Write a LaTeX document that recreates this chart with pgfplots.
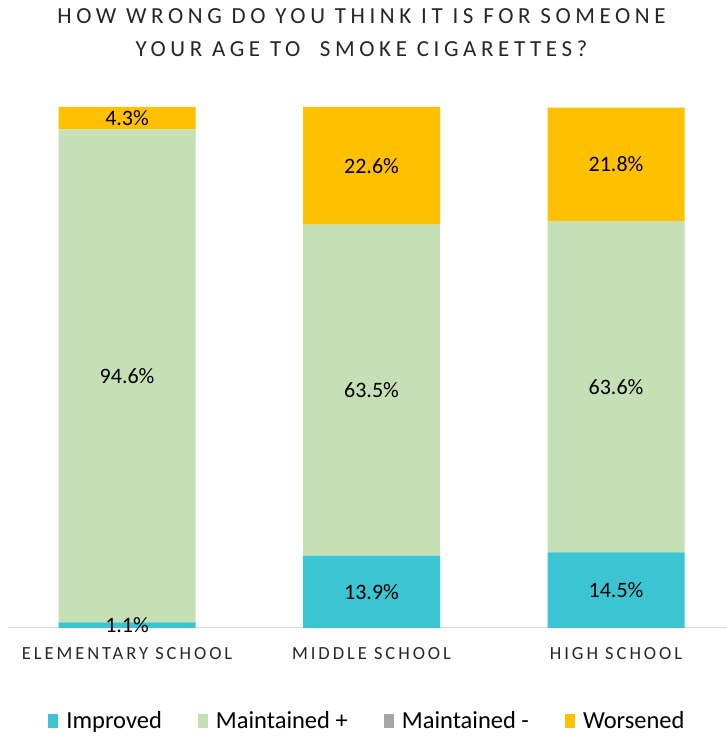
\documentclass[border=0pt]{standalone}
\usepackage{pgfplots}
\pgfplotsset{compat=1.18}
\usepackage{fontspec}
\setmainfont{Carlito}
\definecolor{cImp}{HTML}{3BC4D2}
\definecolor{cMp}{HTML}{C5E0B4}
\definecolor{cMm}{HTML}{A5A5A5}
\definecolor{cW}{HTML}{FFC000}
\begin{document}
\begin{tikzpicture}
\useasboundingbox (0pt,0pt) rectangle (727pt,738pt);
\begin{axis}[
  at={(8pt,110pt)}, anchor=south west,
  scale only axis, width=719pt, height=521pt,
  ybar stacked, bar width=137pt,
  xmin=-0.487, xmax=2.454, ymin=0, ymax=100,
  axis y line=none, axis x line*=bottom,
  x axis line style={draw=black!15, line width=1pt, -},
  xtick={0,1,2},
  xticklabels={ELEMENTARY SCHOOL, MIDDLE SCHOOL, HIGH SCHOOL},
  major tick length=0,
  xticklabel style={font=\fontsize{18.5}{20}\selectfont\addfontfeatures{LetterSpace=16}, text=black!85, inner sep=0pt, anchor=north, yshift=-19pt},
  title={HOW WRONG DO YOU THINK IT IS FOR SOMEONE\\YOUR AGE TO\ \ SMOKE CIGARETTES?},
  title style={at={(0.5,1)}, anchor=south, inner sep=0pt, yshift=44pt, xshift=-6pt, align=center,
    font=\fontsize{23}{33}\selectfont\addfontfeatures{LetterSpace=20}, text=black!85},
  legend style={at={(0.5,0)}, anchor=center, yshift=-93pt, draw=none, fill=none,
    legend columns=4, font=\fontsize{24.5}{27}\selectfont,
    /tikz/every even column/.append style={column sep=34pt},
    /tikz/every odd column/.append style={column sep=6pt},
    legend cell align=left},
  legend image code/.code={\fill[#1] (0pt,-7pt) rectangle (10pt,7pt);},
  nodes near coords={\pgfmathprintnumber[fixed,precision=1,fixed zerofill,assume math mode=true]{\pgfplotspointmeta}\%},
  point meta=explicit,
  every node near coord/.append style={anchor=center, font=\fontsize{22}{24}\selectfont, text=black},
]
\addplot[fill=cImp, draw=none] coordinates {(0,1.1) [1.1] (1,13.9) [13.9] (2,14.5) [14.5]};
\addlegendentry{Improved}
\addplot[fill=cMp, draw=none] coordinates {(0,94.6) [94.6] (1,63.5) [63.5] (2,63.6) [63.6]};
\addlegendentry{Maintained +}
\addplot[fill=cMm, draw=none, nodes near coords={}] coordinates {(0,0) [0] (1,0) [0] (2,0) [0]};
\addlegendentry{Maintained -}
\addplot[fill=cW, draw=none] coordinates {(0,4.3) [4.3] (1,22.6) [22.6] (2,21.8) [21.8]};
\addlegendentry{Worsened}
\end{axis}
\end{tikzpicture}
\end{document}
